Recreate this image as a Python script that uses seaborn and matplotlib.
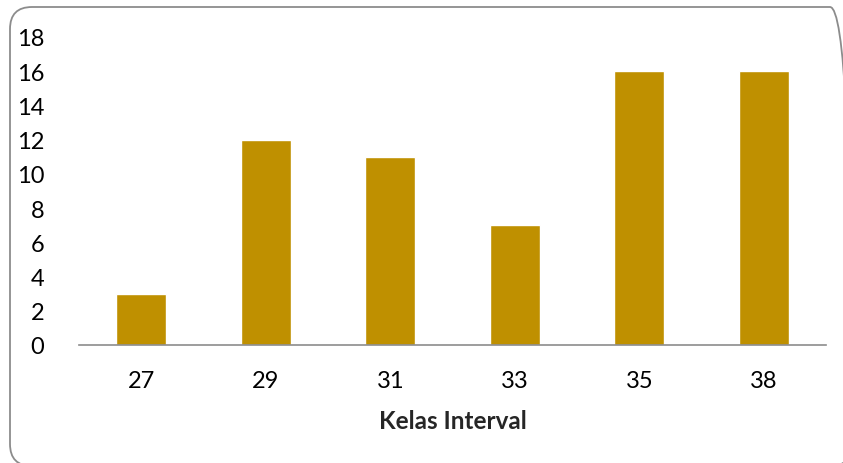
import matplotlib
matplotlib.use("Agg")
import matplotlib.pyplot as plt
from matplotlib.patches import FancyBboxPatch
import seaborn as sns
import pandas as pd

# Frequency per class interval
kelas = ["27", "29", "31", "33", "35", "38"]
frekuensi = [3, 12, 11, 7, 16, 16]
y_ticks = [0, 2, 4, 6, 8, 10, 12, 14, 16, 18]

sns.set_theme(style="white")
plt.rcParams["font.family"] = ["Lato", "DejaVu Sans"]

df = pd.DataFrame({"Kelas Interval": kelas, "Frekuensi": frekuensi})

W, H = 843, 464
fig = plt.figure(figsize=(W / 100, H / 100), dpi=100)
ax = fig.add_axes([79 / W, 1 - 346 / H, (826 - 79) / W, (346 - 38) / H])

sns.barplot(data=df, x="Kelas Interval", y="Frekuensi", order=kelas,
            color="#BF9000", saturation=1, width=0.4, ax=ax)

ax.set_ylim(0, 18)
ax.set_yticks(y_ticks)
ax.set_xlim(-0.5, len(kelas) - 0.5)
ax.tick_params(axis="both", length=0, labelsize=17, colors="black")
ax.tick_params(axis="y", pad=25)
ax.tick_params(axis="x", pad=18)
ax.set_ylabel("")
ax.set_xlabel("Kelas Interval", fontsize=17.5, fontweight="bold", labelpad=13)

for s in ["top", "right", "left"]:
    ax.spines[s].set_visible(False)
ax.spines["bottom"].set_color("#8c8c8c")
ax.spines["bottom"].set_linewidth(1.2)

# Rounded chart border, in inches from the bottom-left corner of the figure
left, right, top, bottom = 10, 852, 8, 467
border = FancyBboxPatch((left / 100, (H - bottom) / 100),
                        (right - left) / 100, (bottom - top) / 100,
                        boxstyle="round,pad=0,rounding_size=0.22",
                        transform=fig.dpi_scale_trans, fill=False,
                        edgecolor="#8c8c8c", linewidth=1.3)
fig.patches.append(border)

fig.savefig("out.png", dpi=100)
